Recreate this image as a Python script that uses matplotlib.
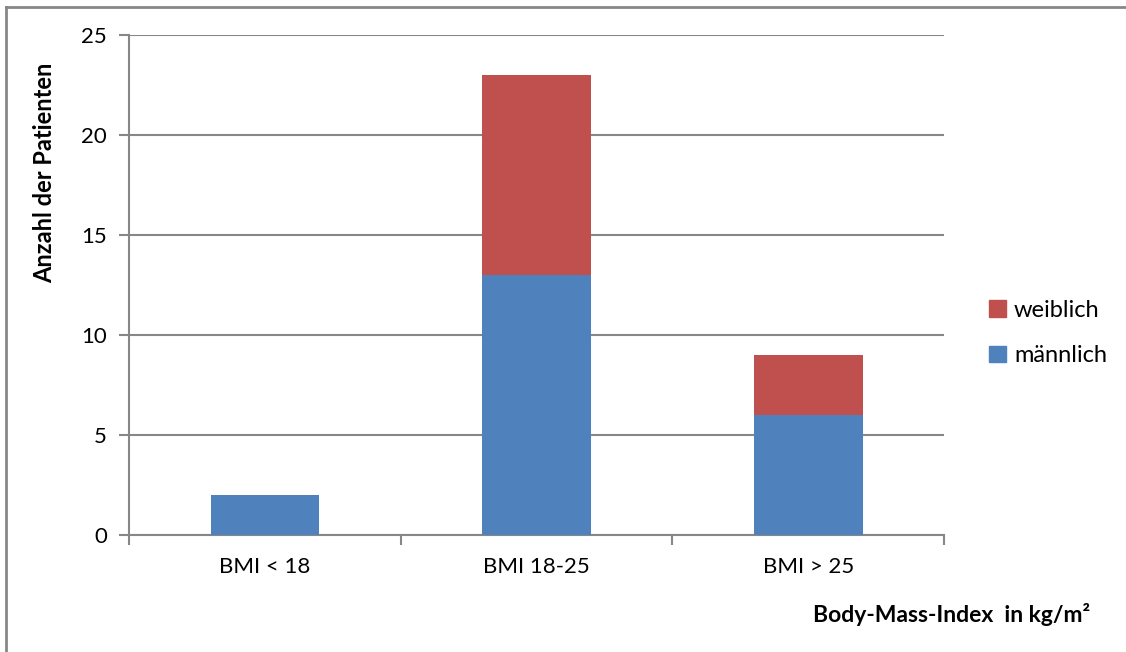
import matplotlib
matplotlib.use("Agg")
import matplotlib.pyplot as plt
import numpy as np
from matplotlib.lines import Line2D
from matplotlib.patches import Patch

categories = ["BMI < 18", "BMI 18-25", "BMI > 25"]
maennlich = [2, 13, 6]
weiblich = [0, 10, 3]
y_ticks = [0, 5, 10, 15, 20, 25]

BLUE = "#4f81bd"
RED = "#c0504d"
GRID = "#878787"

plt.rcParams["font.family"] = ["Lato", "DejaVu Sans"]

fig = plt.figure(figsize=(11.26, 6.52), dpi=100)
ax = fig.add_axes([129 / 1126, 1 - 535 / 652, (944 - 129) / 1126, 500 / 652])

x = np.arange(len(categories))
ax.bar(x, maennlich, width=0.4, color=BLUE, zorder=3)
ax.bar(x, weiblich, width=0.4, bottom=maennlich, color=RED, zorder=3)

ax.set_xlim(-0.5, len(categories) - 0.5)
ax.set_ylim(0, 25)
ax.set_yticks(y_ticks)
ax.set_xticks(x, categories)
ax.set_xticks(np.arange(len(categories) + 1) - 0.5, minor=True)
ax.tick_params(axis="x", which="major", length=0, pad=16, labelsize=16)
ax.tick_params(axis="x", which="minor", length=7, width=1.5, color=GRID)
ax.tick_params(axis="y", length=7, width=1.5, color=GRID, pad=9, labelsize=16)
ax.grid(axis="y", color=GRID, linewidth=1.5, zorder=0)
for side in ("top", "right"):
    ax.spines[side].set_visible(False)
for side in ("left", "bottom"):
    ax.spines[side].set_color(GRID)
    ax.spines[side].set_linewidth(1.5)

fig.text(45 / 1126, 1 - 173 / 652, "Anzahl der Patienten",
         rotation=90, ha="center", va="center", fontsize=17, fontweight="bold")
fig.text(1090 / 1126, 1 - 614 / 652, "Body-Mass-Index  in kg/m²",
         ha="right", va="center", fontsize=16.5, fontweight="bold")

handles = [Patch(color=RED), Patch(color=BLUE)]
fig.legend(handles, ["weiblich", "männlich"], loc="center left",
           bbox_to_anchor=(968 / 1126, 1 - 333 / 652), frameon=False,
           fontsize=17, handlelength=0.7, handleheight=0.7,
           handletextpad=0.35, labelspacing=1.05)

# chart frame: top and left edges only
fig.add_artist(Line2D([6 / 1126, 1], [1 - 7 / 652, 1 - 7 / 652],
                      transform=fig.transFigure, color=GRID, linewidth=2))
fig.add_artist(Line2D([6 / 1126, 6 / 1126], [0, 1 - 7 / 652],
                      transform=fig.transFigure, color=GRID, linewidth=2))

fig.savefig("out.png", dpi=100, facecolor="white")
